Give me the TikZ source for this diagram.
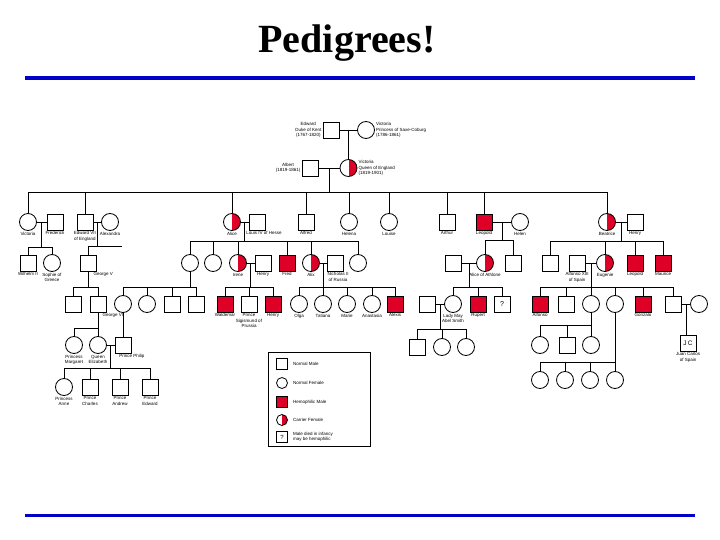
\documentclass[tikz,border=0pt]{standalone}
\usepackage{fontspec}
\setmainfont{Liberation Sans}
\newfontfamily\titlefont{Liberation Serif}
\usetikzlibrary{calc,positioning}
\definecolor{hemored}{RGB}{222,0,38}
\definecolor{barblue}{RGB}{0,0,200}
\tikzset{
  male/.style={draw, rectangle, minimum size=16pt, inner sep=0pt, line width=0.8pt},
  female/.style={draw, circle, minimum size=17pt, inner sep=0pt, line width=0.8pt},
  hemo/.style={male, fill=hemored},
  carrier/.style={female, path picture={
      \fill[hemored] (path picture bounding box.south) rectangle (path picture bounding box.north east);}},
  lbl/.style={font=\fontsize{4.5}{5.2}\selectfont, align=center, inner sep=0.8pt},
  keysym/.style={minimum size=11pt},
}
\begin{document}
\begin{tikzpicture}[x=1pt, y=-1pt, line width=0.9pt]
\useasboundingbox (0,0) rectangle (720,540);
% タイトルと青い線
\node[font=\titlefont\bfseries\fontsize{40}{40}\selectfont] (title) at (347,43) {Pedigrees!};
\fill[barblue] (25,76) rectangle (695,80);
\fill[barblue] (25,514) rectangle (695,517);

% 第1世代
\node[male, label={[lbl]left:{Edward\\Duke of Kent\\(1767-1820)}}] (edward) at (331,130) {};
\node[female, label={[lbl,align=left]right:{Victoria\\Princess of Saxe-Coburg\\(1786-1861)}}] (vicsc) at (366,130) {};
\node[male, label={[lbl]left:{Albert\\(1819-1861)}}] (albert) at (310,168) {};
\node[carrier, label={[lbl,align=left]right:{Victoria\\Queen of England\\(1819-1901)}}] (queen) at (348.5,168) {};
\draw (edward) -- (vicsc);
\draw (albert) -- (queen);
\coordinate (m1) at ($(edward)!.5!(vicsc)$);
\draw (m1) -- (queen);
\coordinate (m2) at ($(albert)!.5!(queen)$);
\coordinate (s2) at (0,192);
\draw (m2) -- (m2 |- s2);

% 第2世代
\node[female, label={[lbl]below:Victoria}] (vicpr) at (28,222) {};
\node[male, label={[lbl]below:Frederick}] (frederick) at (55,222) {};
\node[male, label={[lbl]below:{Edward VII\\of England}}] (edward7) at (85,222) {};
\node[female, label={[lbl]below:Alexandra}] (alexandra) at (110,222) {};
\node[carrier, label={[lbl]below:Alice}] (alice) at (232,222) {};
\node[male, label={[lbl,xshift=7pt]below:Louis IV of Hesse}] (louis) at (257,222) {};
\node[male, label={[lbl]below:Alfred}] (alfred) at (306,222) {};
\node[female, label={[lbl]below:Helena}] (helena) at (349,222) {};
\node[female, label={[lbl]below:Louise}] (louise) at (389,222) {};
\node[male, label={[lbl]below:Arthur}] (arthur) at (447,222) {};
\node[hemo, label={[lbl]below:Leopold}] (leopold) at (484,222) {};
\node[female, label={[lbl]below:Helen}] (helen) at (520,222) {};
\node[carrier, label={[lbl]below:Beatrice}] (beatrice) at (607,222) {};
\node[male, label={[lbl]below:Henry}] (henryb) at (635,222) {};
\draw (vicpr |- s2) -- (beatrice |- s2);
\foreach \c in {vicpr,edward7,alice,alfred,helena,louise,arthur,leopold,beatrice}
  \draw (\c.north) -- (\c |- s2);
\foreach \a/\b in {vicpr/frederick,edward7/alexandra,alice/louis,leopold/helen,beatrice/henryb}
  \draw (\a) -- (\b);

% 第3世代
\node[male, label={[lbl]below:Wilhelm II}] (wilhelm) at (28,263) {};
\node[female, label={[lbl]below:{Sophie of\\Greece}}] (sophie) at (52,263) {};
\node[male, label={[lbl,xshift=-4pt]below right:George V}] (george5) at (88,263) {};
\node[female] (vhesse) at (190,263) {};
\node[female] (ella) at (213,263) {};
\node[carrier, label={[lbl]below:Irene}] (irene) at (238,263) {};
\node[male, label={[lbl]below:Henry}] (henryp) at (263,263) {};
\node[hemo, label={[lbl]below:Fred}] (fred) at (287,263) {};
\node[carrier, label={[lbl]below:Alix}] (alix) at (311,263) {};
\node[male, label={[lbl,xshift=3pt]below:{Nicholas II\\of Russia}}] (nicholas) at (335,263) {};
\node[female] (marieh) at (358,263) {};
\node[male] (teck) at (453,263) {};
\node[carrier, label={[lbl]below:Alice of Athlone}] (athlone) at (485,263) {};
\node[male] (charlese) at (513,263) {};
\node[male] (alexb) at (550,263) {};
\node[male, label={[lbl]below:{Alfonso XIII\\of Spain}}] (alfonso13) at (577,263) {};
\node[carrier, label={[lbl]below:Eugenie}] (eugenie) at (605,263) {};
\node[hemo, label={[lbl]below:Leopold}] (leopoldb) at (635,263) {};
\node[hemo, label={[lbl]below:Maurice}] (maurice) at (663,263) {};
% 第3世代の兄弟線
\coordinate (m3) at ($(vicpr)!.5!(frederick)$);
\coordinate (s3a) at (0,247);
\draw (m3) -- (m3 |- s3a);
\draw (wilhelm |- s3a) -- (sophie |- s3a);
\coordinate (m4) at ($(edward7)!.5!(alexandra)$);
\coordinate (s3b) at (0,246);
\coordinate (e7end) at (122,246);
\draw (m4) -- (m4 |- s3b);
\draw (george5 |- s3b) -- (e7end);
\coordinate (m5) at ($(alice)!.5!(louis)$);
\coordinate (s3c) at (0,241);
\draw (m5) -- (m5 |- s3c);
\draw (vhesse |- s3c) -- (marieh |- s3c);
\coordinate (m6) at ($(leopold)!.5!(helen)$);
\coordinate (s3d) at (0,240);
\draw (m6) -- (m6 |- s3d);
\draw (athlone |- s3d) -- (charlese |- s3d);
\coordinate (m7) at ($(beatrice)!.5!(henryb)$);
\coordinate (s3e) at (0,241);
\draw (m7) -- (m7 |- s3e);
\draw (alexb |- s3e) -- (maurice |- s3e);
\foreach \c/\s in {wilhelm/s3a,sophie/s3a,george5/s3b,vhesse/s3c,ella/s3c,irene/s3c,fred/s3c,
    alix/s3c,marieh/s3c,athlone/s3d,charlese/s3d,alexb/s3e,eugenie/s3e,leopoldb/s3e,maurice/s3e}
  \draw (\c.north) -- (\c |- \s);
\foreach \a/\b in {irene/henryp,alix/nicholas,teck/athlone,alfonso13/eugenie}
  \draw (\a) -- (\b);

% 第4世代
\node[male] (g5son) at (73,304) {};
\node[male, label={[lbl,xshift=-5pt]below right:George VI}] (george6) at (98,304) {};
\node[female] (alicebat) at (123,304) {};
\node[female] (louiseb) at (147,304) {};
\node[male] (georgeb) at (172,304) {};
\node[male] (louisb) at (196,304) {};
\node[hemo, label={[lbl]below:Waldemar}] (waldemar) at (225,304) {};
\node[male, label={[lbl]below:{Prince\\Sigismund of\\Prussia}}] (sigismund) at (249,304) {};
\node[hemo, label={[lbl]below:Henry}] (henryp2) at (273,304) {};
\node[female, label={[lbl]below:Olga}] (olga) at (299,304) {};
\node[female, label={[lbl]below:Tatiana}] (tatiana) at (323,304) {};
\node[female, label={[lbl]below:Marie}] (marie) at (347,304) {};
\node[female, label={[lbl]below:Anastasia}] (anastasia) at (372,304) {};
\node[hemo, label={[lbl]below:Alexis}] (alexis) at (395,304) {};
\node[male] (abelsmith) at (427,304) {};
\node[female, label={[lbl]below:{Lady May\\Abel Smith}}] (ladymay) at (453,304) {};
\node[hemo, label={[lbl]below:Rupert}] (rupert) at (478,304) {};
\node[male, font=\fontsize{7}{7}\selectfont] (mauricet) at (502,304) {?};
\node[hemo, label={[lbl]below:Alfonso}] (alfonsoj) at (540,304) {};
\node[male] (jaime) at (566,304) {};
\node[female] (beatriz) at (591,304) {};
\node[female] (mcristina) at (615,304) {};
\node[hemo, label={[lbl]below:Gonzalo}] (gonzalo) at (643,304) {};
\node[male] (juan) at (673,304) {};
\node[female] (juanwife) at (699,304) {};
% 第4世代の兄弟線
\coordinate (s4) at (0,287);
\draw (george5) -- (george5 |- s4);
\draw (g5son |- s4) -- (george6 |- s4);
\draw (vhesse) -- (vhesse |- s4);
\draw (alicebat |- s4) -- (louisb |- s4);
\coordinate (m8) at ($(irene)!.5!(henryp)$);
\draw (m8) -- (m8 |- s4);
\draw (waldemar |- s4) -- (henryp2 |- s4);
\coordinate (m9) at ($(alix)!.5!(nicholas)$);
\draw (m9) -- (m9 |- s4);
\draw (olga |- s4) -- (alexis |- s4);
\coordinate (m10) at ($(teck)!.5!(athlone)$);
\draw (m10) -- (m10 |- s4);
\draw (ladymay |- s4) -- (mauricet |- s4);
\coordinate (m11) at ($(alfonso13)!.5!(eugenie)$);
\draw (m11) -- (m11 |- s4);
\draw (alfonsoj |- s4) -- (juan |- s4);
\foreach \c in {g5son,george6,alicebat,louiseb,georgeb,louisb,waldemar,sigismund,henryp2,
    olga,tatiana,marie,anastasia,alexis,ladymay,rupert,mauricet,alfonsoj,jaime,beatriz,mcristina,gonzalo,juan}
  \draw (\c.north) -- (\c |- s4);
\foreach \a/\b in {abelsmith/ladymay,juan/juanwife}
  \draw (\a) -- (\b);

% 第5世代
\node[female, label={[lbl]below:{Princess\\Margaret}}] (margaret) at (74,345) {};
\node[female, label={[lbl]below:{Queen\\Elizabeth}}] (elizabeth) at (98,345) {};
\node[male, label={[lbl,xshift=9pt]below:Prince Philip}] (philip) at (123,345) {};
\node[male] (abs1) at (417,347) {};
\node[female] (abs2) at (442,347) {};
\node[female] (abs3) at (466,347) {};
\node[female] (bz1) at (540,345) {};
\node[male] (bz2) at (567,345) {};
\node[female] (bz3) at (591,345) {};
\node[female] (mc1) at (540,380) {};
\node[female] (mc2) at (565,380) {};
\node[female] (mc3) at (590,380) {};
\node[female] (mc4) at (615,380) {};
\node[male, font=\fontsize{6.5}{7}\selectfont, label={[lbl]below:{Juan Carlos\\of Spain}}] (juancarlos) at (688,343) {J\,C};
\coordinate (s5a) at (0,328);
\draw (george6) -- (george6 |- s5a);
\draw (margaret |- s5a) -- (elizabeth |- s5a);
\foreach \c in {margaret,elizabeth} \draw (\c.north) -- (\c |- s5a);
\draw (alicebat) -- (philip);
\coordinate (m12) at ($(abelsmith)!.5!(ladymay)$);
\coordinate (s5b) at (0,329);
\draw (m12) -- (m12 |- s5b);
\draw (abs1 |- s5b) -- (abs3 |- s5b);
\foreach \c in {abs1,abs2,abs3} \draw (\c.north) -- (\c |- s5b);
\coordinate (s5c) at (0,325);
\draw (beatriz) -- (beatriz |- s5c);
\draw (bz1 |- s5c) -- (bz3 |- s5c);
\foreach \c in {bz1,bz2,bz3} \draw (\c.north) -- (\c |- s5c);
\coordinate (s5d) at (0,362);
\draw (mcristina) -- (mcristina |- s5d);
\draw (mc1 |- s5d) -- (mc4 |- s5d);
\foreach \c in {mc1,mc2,mc3,mc4} \draw (\c.north) -- (\c |- s5d);
\coordinate (m13) at ($(juan)!.5!(juanwife)$);
\draw (m13) -- (m13 |- juancarlos.north);
\draw (elizabeth) -- (philip);

% 第6世代
\node[female, label={[lbl]below:{Princess\\Anne}}] (anne) at (64,387) {};
\node[male, label={[lbl]below:{Prince\\Charles}}] (charles) at (90,387) {};
\node[male, label={[lbl]below:{Prince\\Andrew}}] (andrew) at (120,387) {};
\node[male, label={[lbl]below:{Prince\\Edward}}] (edwardp) at (150,387) {};
\coordinate (m14) at ($(elizabeth)!.5!(philip)$);
\coordinate (s6) at (0,368);
\draw (m14) -- (m14 |- s6);
\draw (anne |- s6) -- (edwardp |- s6);
\foreach \c in {anne,charles,andrew,edwardp} \draw (\c.north) -- (\c |- s6);

% 凡例
\node[draw, line width=0.8pt, minimum width=102pt, minimum height=94pt] (legend) at (319,399) {};
\node[male, keysym] (kmale) at (282,364) {};
\node[female, keysym] (kfemale) at (282,383) {};
\node[hemo, keysym] (khemo) at (282,402) {};
\node[carrier, keysym] (kcarrier) at (282,420) {};
\node[male, keysym, font=\fontsize{6}{6}\selectfont] (kinfant) at (282,437) {?};
\node[lbl, right=4pt of kmale] (tmale) {Normal Male};
\node[lbl, right=4pt of kfemale] (tfemale) {Normal Female};
\node[lbl, right=4pt of khemo] (themo) {Hemophilic Male};
\node[lbl, right=4pt of kcarrier] (tcarrier) {Carrier Female};
\node[lbl, align=left, right=4pt of kinfant] (tinfant) {Male died in infancy\\may be hemophilic};
\end{tikzpicture}
\end{document}
